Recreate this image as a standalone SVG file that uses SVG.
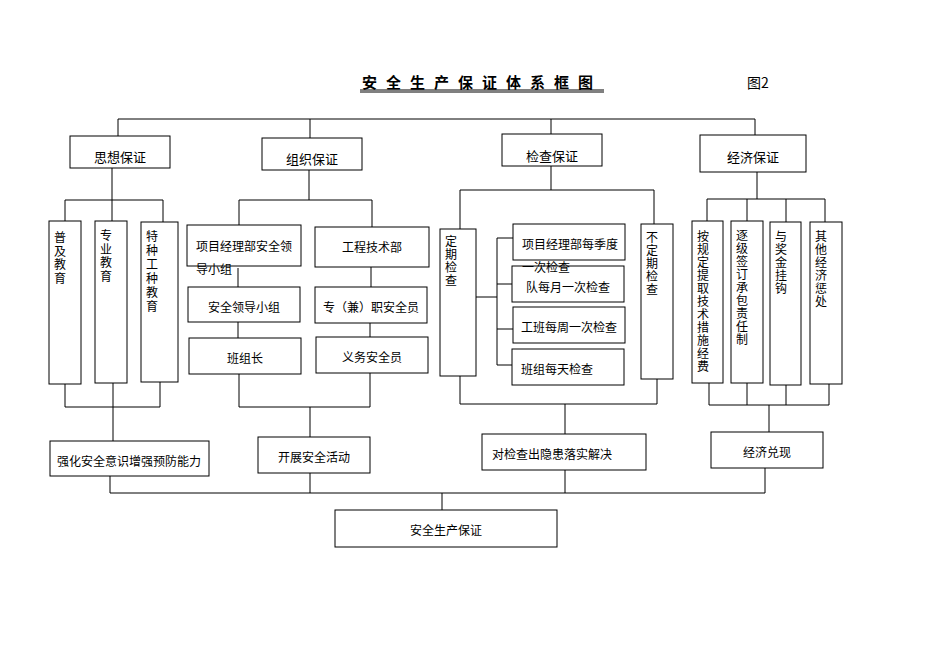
<svg xmlns="http://www.w3.org/2000/svg" width="950" height="672" viewBox="0 0 950 672">
<style>
rect{fill:#fff;stroke:#000;stroke-width:1}
line,polyline{stroke:#000;stroke-width:1;fill:none}
text{font-family:"Noto Sans CJK SC","Liberation Sans",sans-serif;font-size:12px;fill:#000}
.h{font-size:13px;text-anchor:middle}
.c{text-anchor:middle}
.v{font-size:12px}
</style>
<rect x="0" y="0" width="950" height="672" style="stroke:none"/>
<g id="title">
<text x="482" y="88" class="h" style="font-size:15px;font-weight:bold" letter-spacing="9">安全生产保证体系框图</text>
<line x1="360" y1="90" x2="604" y2="90"/><line x1="360" y1="92" x2="604" y2="92"/>
<text x="747" y="88" style="font-size:14px">图2</text>
</g>
<g id="connectors">
<polyline points="118,136 118,119 755,119 755,135"/>
<line x1="310" y1="119" x2="310" y2="138"/><line x1="551" y1="119" x2="551" y2="134"/>
<line x1="112" y1="168" x2="112" y2="221"/>
<polyline points="65,221 65,200 163,200 163,222"/>
<polyline points="65,384 65,407 160,407 160,382"/>
<line x1="113" y1="383" x2="113" y2="441"/>
<line x1="309" y1="170" x2="309" y2="200"/>
<polyline points="239,225 239,200 372,200 372,227"/>
<line x1="238" y1="268" x2="238" y2="287"/><line x1="238" y1="322" x2="238" y2="338"/>
<line x1="371" y1="267" x2="371" y2="287"/><line x1="370" y1="323" x2="370" y2="337"/>
<polyline points="239,374 239,407 370,407 370,373"/>
<line x1="310" y1="407" x2="310" y2="437"/>
<line x1="551" y1="166" x2="551" y2="190"/>
<polyline points="460,229 460,190 654,190 654,224"/>
<line x1="476" y1="297" x2="497" y2="297"/>
<line x1="497" y1="238" x2="497" y2="365"/>
<line x1="497" y1="238" x2="513" y2="238"/><line x1="497" y1="284" x2="512" y2="284"/>
<line x1="497" y1="329" x2="513" y2="329"/><line x1="497" y1="365" x2="512" y2="365"/>
<polyline points="460,376 460,404 657,404 657,379"/>
<line x1="565" y1="404" x2="565" y2="434"/>
<line x1="757" y1="172" x2="757" y2="199"/>
<polyline points="707,221 707,199 825,199 825,222"/>
<line x1="747" y1="199" x2="747" y2="221"/><line x1="786" y1="199" x2="786" y2="222"/>
<polyline points="709,383 709,405 829,405 829,384"/>
<line x1="747" y1="383" x2="747" y2="405"/><line x1="786" y1="385" x2="786" y2="405"/>
<line x1="769" y1="405" x2="769" y2="432"/>
<line x1="110" y1="476" x2="110" y2="493"/><line x1="310" y1="473" x2="310" y2="493"/>
<line x1="565" y1="470" x2="565" y2="493"/><line x1="765" y1="468" x2="765" y2="493"/>
<line x1="110" y1="493" x2="765" y2="493"/>
<line x1="442" y1="493" x2="442" y2="510"/>
</g>
<g id="n1"><rect x="70" y="136" width="100" height="32"/><text x="120" y="162" class="h">思想保证</text></g>
<g id="n2"><rect x="262" y="138" width="100" height="32"/><text x="312" y="164" class="h">组织保证</text></g>
<g id="n3"><rect x="502" y="134" width="100" height="32"/><text x="552" y="161" class="h">检查保证</text></g>
<g id="n4"><rect x="700" y="135" width="106" height="37"/><text x="753" y="162" class="h">经济保证</text></g>
<g id="n5"><rect x="49" y="221" width="32" height="163"/><text x="54" y="242" class="v"><tspan x="54">普</tspan><tspan x="54" dy="13.5">及</tspan><tspan x="54" dy="13.5">教</tspan><tspan x="54" dy="13.5">育</tspan></text></g>
<g id="n6"><rect x="95" y="221" width="32" height="162"/><text x="100" y="240" class="v"><tspan x="100">专</tspan><tspan x="100" dy="13.5">业</tspan><tspan x="100" dy="13.5">教</tspan><tspan x="100" dy="13.5">育</tspan></text></g>
<g id="n7"><rect x="141" y="222" width="37" height="160"/><text x="146" y="241" class="v"><tspan x="146">特</tspan><tspan x="146" dy="14">种</tspan><tspan x="146" dy="14">工</tspan><tspan x="146" dy="14">种</tspan><tspan x="146" dy="14">教</tspan><tspan x="146" dy="14">育</tspan></text></g>
<g id="n8"><rect x="187" y="225" width="114" height="41"/><text x="196" y="251">项目经理部安全领</text><text x="196" y="274">导小组</text></g>
<g id="n9"><rect x="315" y="227" width="114" height="40"/><text x="372" y="252" class="c">工程技术部</text></g>
<g id="n10"><rect x="188" y="287" width="112" height="35"/><text x="244" y="312" class="c">安全领导小组</text></g>
<g id="n11"><rect x="315" y="287" width="112" height="36"/><text x="371" y="312" class="c">专（兼）职安全员</text></g>
<g id="n12"><rect x="189" y="338" width="112" height="36"/><text x="245" y="363" class="c">班组长</text></g>
<g id="n13"><rect x="316" y="337" width="112" height="36"/><text x="372" y="362" class="c">义务安全员</text></g>
<g id="n14"><rect x="440" y="229" width="36" height="147"/><text x="445" y="246" class="v"><tspan x="445">定</tspan><tspan x="445" dy="13">期</tspan><tspan x="445" dy="13">检</tspan><tspan x="445" dy="13">查</tspan></text></g>
<g id="n16"><rect x="512" y="266" width="112" height="36"/><text x="568" y="292" class="c">队每月一次检查</text></g>
<g id="n15"><rect x="513" y="224" width="112" height="36"/><text x="522" y="249">项目经理部每季度</text><text x="522" y="272">一次检查</text></g>
<g id="n17"><rect x="513" y="307" width="112" height="36"/><text x="569" y="332" class="c">工班每周一次检查</text></g>
<g id="n18"><rect x="512" y="349" width="112" height="36"/><text x="521" y="374">班组每天检查</text></g>
<g id="n19"><rect x="641" y="224" width="32" height="155"/><text x="646" y="242" class="v"><tspan x="646">不</tspan><tspan x="646" dy="13">定</tspan><tspan x="646" dy="13">期</tspan><tspan x="646" dy="13">检</tspan><tspan x="646" dy="13">查</tspan></text></g>
<g id="n20"><rect x="692" y="221" width="31" height="162"/><text x="697" y="241" class="v"><tspan x="697">按</tspan><tspan x="697" dy="13">规</tspan><tspan x="697" dy="13">定</tspan><tspan x="697" dy="13">提</tspan><tspan x="697" dy="13">取</tspan><tspan x="697" dy="13">技</tspan><tspan x="697" dy="13">术</tspan><tspan x="697" dy="13">措</tspan><tspan x="697" dy="13">施</tspan><tspan x="697" dy="13">经</tspan><tspan x="697" dy="13">费</tspan></text></g>
<g id="n21"><rect x="731" y="221" width="32" height="162"/><text x="736" y="240" class="v"><tspan x="736">逐</tspan><tspan x="736" dy="13">级</tspan><tspan x="736" dy="13">签</tspan><tspan x="736" dy="13">订</tspan><tspan x="736" dy="13">承</tspan><tspan x="736" dy="13">包</tspan><tspan x="736" dy="13">责</tspan><tspan x="736" dy="13">任</tspan><tspan x="736" dy="13">制</tspan></text></g>
<g id="n22"><rect x="770" y="222" width="31" height="163"/><text x="775" y="241" class="v"><tspan x="775">与</tspan><tspan x="775" dy="13">奖</tspan><tspan x="775" dy="13">金</tspan><tspan x="775" dy="13">挂</tspan><tspan x="775" dy="13">钩</tspan></text></g>
<g id="n23"><rect x="810" y="222" width="32" height="162"/><text x="815" y="241" class="v"><tspan x="815">其</tspan><tspan x="815" dy="13">他</tspan><tspan x="815" dy="13">经</tspan><tspan x="815" dy="13">济</tspan><tspan x="815" dy="13">惩</tspan><tspan x="815" dy="13">处</tspan></text></g>
<g id="n24"><rect x="50" y="441" width="159" height="35"/><text x="129" y="466" class="c">强化安全意识增强预防能力</text></g>
<g id="n25"><rect x="258" y="437" width="112" height="36"/><text x="314" y="462" class="c">开展安全活动</text></g>
<g id="n26"><rect x="482" y="434" width="164" height="36"/><text x="552" y="459" class="c">对检查出隐患落实解决</text></g>
<g id="n27"><rect x="711" y="432" width="112" height="36"/><text x="767" y="457" class="c">经济兑现</text></g>
<g id="n28"><rect x="335" y="510" width="222" height="37"/><text x="446" y="535" class="c">安全生产保证</text></g>
</svg>
